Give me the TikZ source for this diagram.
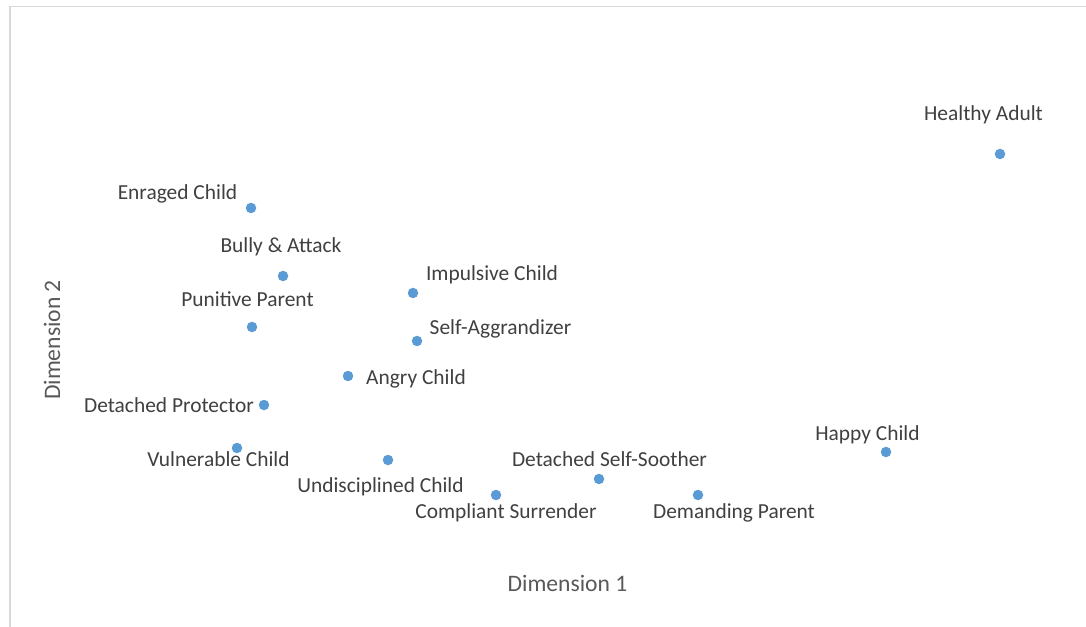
\documentclass[tikz,border=0pt]{standalone}
\usepackage{fontspec}
\setmainfont{Carlito}
\definecolor{dotblue}{HTML}{5B9BD5}
\definecolor{labelgray}{HTML}{404040}
\definecolor{titlegray}{HTML}{595959}
\definecolor{framegray}{HTML}{D9D9D9}
\tikzset{
  pt/.style={circle, fill=dotblue, draw=none, minimum size=10.5bp, inner sep=0pt},
  lbl/.style={anchor=base, inner sep=0pt, text=labelgray, font=\fontsize{21.5}{26}\selectfont},
  ttl/.style={inner sep=0pt, text=titlegray, font=\fontsize{23.7}{28}\selectfont},
}
\begin{document}
\begin{tikzpicture}[x=1bp,y=-1bp]
\useasboundingbox (0,0) rectangle (1086,627);
\fill[white] (0,0) rectangle (1086,627);
\draw[framegray, line width=1.6bp] (10,627) -- (10,6.5) -- (1086,6.5);

% data points
\node[pt] (ha) at (1000,154) {};
\node[pt] (ec) at (251,208) {};
\node[pt] (ba) at (283,276) {};
\node[pt] (pp) at (252,327) {};
\node[pt] (ic) at (413,293) {};
\node[pt] (sa) at (417,341) {};
\node[pt] (ac) at (348,376) {};
\node[pt] (dp) at (264,405) {};
\node[pt] (vc) at (237,448) {};
\node[pt] (uc) at (388,460) {};
\node[pt] (cs) at (496,495) {};
\node[pt] (dss) at (599,479) {};
\node[pt] (dem) at (698,495) {};
\node[pt] (hc) at (886,452) {};

% labels
\node[lbl] (haL) at (983.5,121) {Healthy Adult};
\node[lbl] (ecL) at (177.5,200) {Enraged Child};
\node[lbl] (baL) at (281,253) {Bully \& Attack};
\node[lbl] (ppL) at (247.5,307) {Punitive Parent};
\node[lbl] (icL) at (492,281) {Impulsive Child};
\node[lbl] (saL) at (500.5,334) {Self-Aggrandizer};
\node[lbl] (acL) at (416,384) {Angry Child};
\node[lbl] (dpL) at (169,412) {Detached Protector};
\node[lbl] (vcL) at (218.5,466) {Vulnerable Child};
\node[lbl] (ucL) at (380.5,492) {Undisciplined Child};
\node[lbl] (dssL) at (609.5,466) {Detached Self-Soother};
\node[lbl] (csL) at (506,518) {Compliant Surrender};
\node[lbl] (demL) at (734,518) {Demanding Parent};
\node[lbl] (hcL) at (867.5,440) {Happy Child};

% axis titles
\node[ttl] (xt) at (567.5,583) {Dimension 1};
\node[ttl, rotate=90] (yt) at (52,340) {Dimension 2};
\end{tikzpicture}
\end{document}
